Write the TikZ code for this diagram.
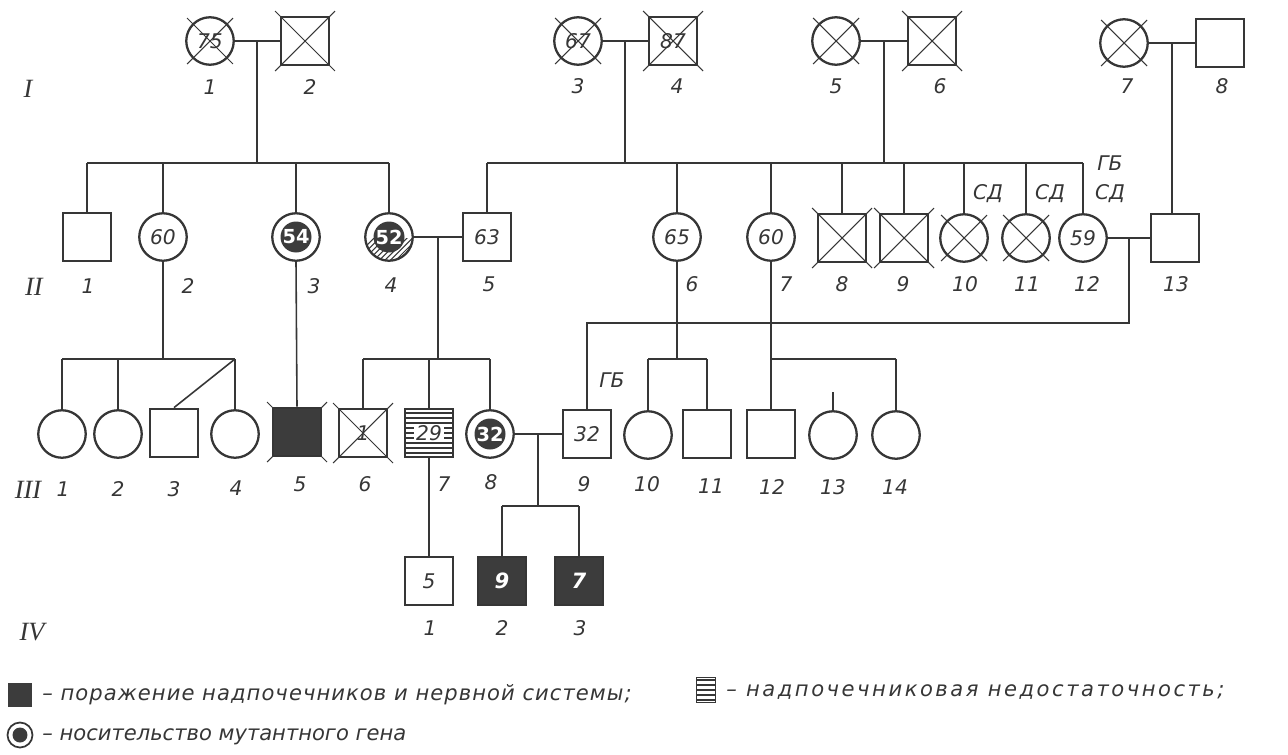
\documentclass[tikz,border=0pt]{standalone}
\usepackage{fontspec}
\setmainfont{DejaVu Sans}
\newfontfamily\romfont{Liberation Serif}
\newfontfamily\legA{DejaVu Sans}[LetterSpace=5]
\newfontfamily\legB{DejaVu Sans}[LetterSpace=12]
\usetikzlibrary{calc}
\definecolor{ink}{HTML}{363636}
\definecolor{dk}{HTML}{3C3C3C}
\newcommand\deadX[2]{\draw[xl] ($(#1)+(-#2,#2)$) -- ($(#1)+(#2,-#2)$) ($(#1)+(-#2,-#2)$) -- ($(#1)+(#2,#2)$);}
\begin{document}
\begin{tikzpicture}[x=0.02cm,y=-0.02cm,
  ln/.style={draw=ink, line width=0.9pt},
  xl/.style={draw=ink, line width=0.6pt},
  numf/.style={font=\fontsize{11.5}{13}\selectfont\itshape, text=ink},
  fem/.style={circle, draw=ink, line width=1.3pt, minimum size=0.95cm, inner sep=0pt, numf},
  mal/.style={rectangle, draw=ink, line width=1.3pt, minimum size=0.97cm, inner sep=0pt, numf},
  aff/.style={mal, fill=dk, text=white, font=\fontsize{12}{13}\selectfont\bfseries\itshape},
  carrier/.style={fem, text=white, font=\fontsize{11}{12}\selectfont\bfseries,
     path picture={\fill[dk] (path picture bounding box.center) circle (0.31cm);}},
  hatchcarrier/.style={fem, text=white, font=\fontsize{11}{12}\selectfont\bfseries,
     path picture={
       \begin{scope}
       \clip ($(path picture bounding box.center)+(-0.6cm,-0.02cm)$) rectangle ($(path picture bounding box.center)+(0.6cm,-0.6cm)$);
       \foreach \k in {-8,...,6} \draw[ink, line width=0.6pt] ($(path picture bounding box.center)+(\k*0.11cm,-0.6cm)$) -- ++(0.8cm,0.8cm);
       \end{scope}
       \fill[dk] (path picture bounding box.center) circle (0.31cm);}},
  striped/.style={mal, path picture={\foreach \k in {-4,...,4} \draw[ink, line width=0.6pt] ($(path picture bounding box.center)+(-0.6cm,\k*0.1cm)$) -- ++(1.2cm,0);}},
  lab/.style={font=\fontsize{11.5}{13}\selectfont\itshape, text=ink},
  gen/.style={font=\romfont\itshape\fontsize{15}{17}\selectfont, text=ink},
  leg/.style={text=ink, anchor=west, inner sep=0pt}]
\useasboundingbox (0,0) rectangle (1288,754);

% ---------- generation I
\node[fem] (I1) at (210,41) {75}; \deadX{I1}{0.46cm}
\node[mal] (I2) at (305,41) {}; \deadX{I2}{0.6cm}
\node[fem] (I3) at (578,41) {67}; \deadX{I3}{0.46cm}
\node[mal] (I4) at (673,41) {87}; \deadX{I4}{0.6cm}
\node[fem] (I5) at (836,41) {}; \deadX{I5}{0.46cm}
\node[mal] (I6) at (932,41) {}; \deadX{I6}{0.6cm}
\node[fem] (I7) at (1124,43) {}; \deadX{I7}{0.46cm}
\node[mal] (I8) at (1220,43) {};

% ---------- generation II
\node[mal] (II1) at (87,237) {};
\node[fem] (II2) at (163,237) {60};
\node[carrier] (II3) at (296,237) {54};
\node[hatchcarrier] (II4) at (389,237) {52};
\node[mal] (II5) at (487,237) {63};
\node[fem] (II6) at (677,237) {65};
\node[fem] (II7) at (771,237) {60};
\node[mal] (II8) at (842,238) {}; \deadX{II8}{0.6cm}
\node[mal] (II9) at (904,238) {}; \deadX{II9}{0.6cm}
\node[fem] (II10) at (964,238) {}; \deadX{II10}{0.46cm}
\node[fem] (II11) at (1026,238) {}; \deadX{II11}{0.46cm}
\node[fem] (II12) at (1083,238) {59};
\node[mal] (II13) at (1175,238) {};

% ---------- generation III
\node[fem] (III1) at (62,434) {};
\node[fem] (III2) at (118,434) {};
\node[mal] (III3) at (174,433) {};
\node[fem] (III4) at (235,434) {};
\coordinate (c5) at (297,432); \deadX{c5}{0.6cm}
\node[aff] (III5) at (c5) {};
\node[mal] (III6) at (363,433) {1}; \deadX{III6}{0.6cm}
\node[striped] (III7) at (429,433) {};
\node[fill=white, inner sep=1pt, numf] (III7t) at (III7) {29};
\node[carrier] (III8) at (490,434) {32};
\node[mal] (III9) at (587,434) {32};
\node[fem] (III10) at (648,435) {};
\node[mal] (III11) at (707,434) {};
\node[mal] (III12) at (771,434) {};
\node[fem] (III13) at (833,435) {};
\node[fem] (III14) at (896,435) {};

% ---------- generation IV
\node[mal] (IV1) at (429,581) {5};
\node[aff] (IV2) at (502,581) {9};
\node[aff] (IV3) at (579,581) {7};

% ---------- connectors
\coordinate (s1) at (0,163);
\coordinate (s3) at (0,359);
\coordinate (s4) at (0,323);
\coordinate (s5) at (0,506);
% I1 x I2
\draw[ln] (I1) -- (I2);
\coordinate (m1) at ($(I1.east)!0.5!(I2.west)$);
\draw[ln] (m1) -- (m1 |- s1);
\draw[ln] (II1.north |- s1) -- (II4.north |- s1);
\foreach \n in {II1,II2,II3,II4} \draw[ln] (\n.north) -- (\n.north |- s1);
% I3 x I4, I5 x I6
\draw[ln] (I3) -- (I4);
\draw[ln] (I5) -- (I6);
\coordinate (m2) at ($(I3.east)!0.5!(I4.west)$);
\coordinate (m3) at ($(I5.east)!0.5!(I6.west)$);
\draw[ln] (m2) -- (m2 |- s1);
\draw[ln] (m3) -- (m3 |- s1);
\draw[ln] (II5.north |- s1) -- (II12.north |- s1);
\foreach \n in {II5,II6,II7,II8,II9,II10,II11,II12} \draw[ln] (\n.north) -- (\n.north |- s1);
% I7 x I8
\draw[ln] (I7) -- (I8);
\coordinate (m4) at ($(I7.east)!0.5!(I8.west)$);
\draw[ln] (m4) -- (m4 |- II13.north);
% II2 children
\draw[ln] (II2.south) -- (II2.south |- s3);
\draw[ln] (III1.north |- s3) -- (III4.north |- s3);
\foreach \n in {III1,III2,III4} \draw[ln] (\n.north) -- (\n.north |- s3);
\draw[ln] (III4.north |- s3) -- (III3.north);
% II3 child
\draw[ln] (II3.south) -- (III5.north);
% II4 x II5
\draw[ln] (II4) -- (II5);
\coordinate (m5) at ($(II4.east)!0.5!(II5.west)$);
\draw[ln] (m5) -- (m5 |- s3);
\draw[ln] (III6.north |- s3) -- (III8.north |- s3);
\foreach \n in {III6,III7,III8} \draw[ln] (\n.north) -- (\n.north |- s3);
% II12 x II13
\draw[ln] (II12) -- (II13);
\coordinate (m6) at ($(II12.east)!0.5!(II13.west)$);
\draw[ln] (m6) -- (m6 |- s4) -- (III9.north |- s4) -- (III9.north);
% II6 children
\draw[ln] (II6.south) -- (II6.south |- s3);
\draw[ln] (III10.north |- s3) -- (III11.north |- s3);
\foreach \n in {III10,III11} \draw[ln] (\n.north) -- (\n.north |- s3);
% II7 children
\draw[ln] (II7.south) -- (III12.north);
\draw[ln] (III12.north |- s3) -- (III14.north |- s3);
\draw[ln] (III14.north) -- (III14.north |- s3);
\coordinate (st) at (833,392);
\draw[ln] (st) -- (III13.north);
% III8 x III9
\draw[ln] (III8) -- (III9);
\coordinate (m7) at ($(III8.east)!0.5!(III9.west)$);
\draw[ln] (m7) -- (m7 |- s5);
\draw[ln] (IV2.north |- s5) -- (IV3.north |- s5);
\foreach \n in {IV2,IV3} \draw[ln] (\n.north) -- (\n.north |- s5);
% III7 child
\draw[ln] (III7.south) -- (IV1.north);

% ---------- generation labels
\node[gen] (gI) at (28,89) {I};
\node[gen] (gII) at (34,287) {II};
\node[gen] (gIII) at (28,490) {III};
\node[gen] (gIV) at (32,632) {IV};

% ---------- individual numbers
\node[lab] (nI1) at (210,87) {1};
\node[lab] (nI2) at (310,87) {2};
\node[lab] (nI3) at (578,86) {3};
\node[lab] (nI4) at (677,86) {4};
\node[lab] (nI5) at (836,86) {5};
\node[lab] (nI6) at (940,86) {6};
\node[lab] (nI7) at (1127,86) {7};
\node[lab] (nI8) at (1222,86) {8};

\node[lab] (nII1) at (88,286) {1};
\node[lab] (nII2) at (188,286) {2};
\node[lab] (nII3) at (314,286) {3};
\node[lab] (nII4) at (391,285) {4};
\node[lab] (nII5) at (489,284) {5};
\node[lab] (nII6) at (692,284) {6};
\node[lab] (nII7) at (786,284) {7};
\node[lab] (nII8) at (842,284) {8};
\node[lab] (nII9) at (903,284) {9};
\node[lab] (nII10) at (965,284) {10};
\node[lab] (nII11) at (1027,284) {11};
\node[lab] (nII12) at (1087,284) {12};
\node[lab] (nII13) at (1176,284) {13};

\node[lab] (nIII1) at (63,489) {1};
\node[lab] (nIII2) at (118,489) {2};
\node[lab] (nIII3) at (174,489) {3};
\node[lab] (nIII4) at (236,488) {4};
\node[lab] (nIII5) at (300,484) {5};
\node[lab] (nIII6) at (365,484) {6};
\node[lab] (nIII7) at (444,484) {7};
\node[lab] (nIII8) at (491,482) {8};
\node[lab] (nIII9) at (584,484) {9};
\node[lab] (nIII10) at (647,484) {10};
\node[lab] (nIII11) at (711,486) {11};
\node[lab] (nIII12) at (772,487) {12};
\node[lab] (nIII13) at (833,487) {13};
\node[lab] (nIII14) at (895,487) {14};

\node[lab] (nIV1) at (430,628) {1};
\node[lab] (nIV2) at (502,628) {2};
\node[lab] (nIV3) at (580,628) {3};

% ---------- annotations
\node[lab] (gb1) at (1110,163) {ГБ};
\node[lab] (sd1) at (988,194) {СД};
\node[lab] (sd2) at (1050,194) {СД};
\node[lab] (sd3) at (1110,194) {СД};
\node[lab] (gb2) at (612,380) {ГБ};

% ---------- legend
\node[rectangle, fill=dk, minimum width=0.5cm, minimum height=0.48cm, inner sep=0pt] (LA) at (20,695) {};
\node[leg, font=\legA\fontsize{12}{14}\selectfont\itshape] (L1) at (42,695) {– поражение надпочечников и нервной системы;};
\node[rectangle, draw=ink, line width=0.8pt, minimum width=0.38cm, minimum height=0.5cm, inner sep=0pt,
  path picture={\foreach \k in {-2,...,2} \draw[ink, line width=0.6pt] ($(path picture bounding box.center)+(-0.3cm,\k*0.1cm)$) -- ++(0.6cm,0);}] (LB) at (706,690) {};
\node[leg, font=\legB\fontsize{12}{14}\selectfont\itshape] (L2) at (726,692) {– надпочечниковая недостаточность;};
\node[circle, draw=ink, line width=1pt, minimum size=0.5cm, inner sep=0pt,
  path picture={\fill[dk] (path picture bounding box.center) circle (0.15cm);}] (LC) at (20,735) {};
\node[leg, font=\fontsize{12}{14}\selectfont\itshape] (L3) at (42,737) {– носительство мутантного гена};
\end{tikzpicture}
\end{document}
